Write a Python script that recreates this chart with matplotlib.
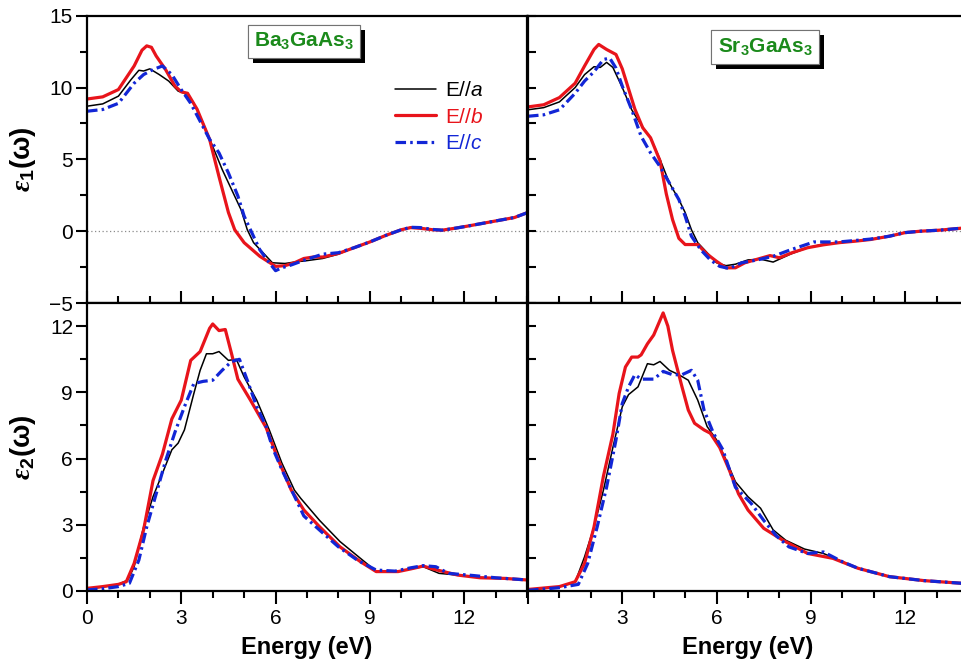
import matplotlib
matplotlib.use("Agg")
import matplotlib.pyplot as plt
import matplotlib.patheffects as pe
from matplotlib.ticker import MultipleLocator

plt.rcParams['font.family'] = ['Liberation Sans', 'DejaVu Sans']
plt.rcParams['mathtext.fontset'] = 'custom'
plt.rcParams['mathtext.rm'] = 'Liberation Sans'
plt.rcParams['mathtext.it'] = 'Liberation Sans:italic'
plt.rcParams['mathtext.bf'] = 'Liberation Sans:bold'
plt.rcParams['mathtext.bfit'] = 'Liberation Serif:italic:bold'

# ---- data (energy in eV) ----
# eps1, Ba3GaAs3
ba1_a_x = [0, 0.5, 1.0, 1.4, 1.65, 1.8, 2.0, 2.3, 2.6, 2.9, 3.1, 3.4, 3.7, 4.0, 4.3, 4.6, 4.9, 5.1, 5.3, 5.6, 5.9,
           6.3, 6.6, 7.0, 7.5, 8.0, 8.5, 9.0, 9.5, 10.0, 10.3, 10.6, 11.0, 11.3, 11.7, 12.1, 12.6, 13.1, 13.6, 14.0]
ba1_a_y = [8.7, 8.86, 9.4, 10.55, 11.2, 11.15, 11.3, 10.9, 10.45, 9.75, 9.6, 8.9, 7.5, 5.9, 4.3, 2.9, 1.5, 0.1, -0.8,
           -1.5, -2.2, -2.25, -2.15, -2.05, -1.9, -1.6, -1.15, -0.75, -0.3, 0.1, 0.27, 0.22, 0.1, 0.07, 0.2, 0.35,
           0.55, 0.75, 0.95, 1.28]
ba1_b_x = [0, 0.5, 1.0, 1.5, 1.75, 1.9, 2.05, 2.2, 2.5, 2.8, 3.0, 3.2, 3.5, 3.9, 4.2, 4.5, 4.7, 5.0, 5.5, 6.0, 6.3,
           6.6, 6.9, 7.2, 7.5, 8.0, 8.5, 9.0, 9.5, 10.0, 10.3, 10.6, 11.0, 11.3, 11.7, 12.1, 12.6, 13.1, 13.6, 14.0]
ba1_b_y = [9.2, 9.35, 9.86, 11.5, 12.6, 12.9, 12.8, 12.2, 11.25, 10.1, 9.7, 9.6, 8.5, 6.4, 3.8, 1.3, 0.1, -0.8, -1.75,
           -2.45, -2.4, -2.2, -1.9, -1.8, -1.8, -1.55, -1.15, -0.75, -0.3, 0.1, 0.25, 0.2, 0.1, 0.07, 0.2, 0.35,
           0.55, 0.75, 0.95, 1.28]
ba1_c_x = [0, 0.5, 1.0, 1.5, 1.8, 2.1, 2.4, 2.7, 3.0, 3.3, 3.6, 3.9, 4.2, 4.5, 4.8, 5.0, 5.2, 5.5, 5.8, 6.0, 6.2,
           6.5, 7.0, 7.5, 8.0, 8.5, 9.0, 9.5, 10.0, 10.3, 10.6, 11.0, 11.3, 11.7, 12.1, 12.6, 13.1, 13.6, 14.0]
ba1_c_y = [8.35, 8.47, 8.9, 10.3, 10.9, 11.25, 11.5, 10.9, 9.85, 8.9, 7.65, 6.4, 5.45, 4.05, 2.45, 1.05, 0.1, -1.3,
           -2.2, -2.75, -2.55, -2.35, -1.95, -1.6, -1.5, -1.15, -0.75, -0.3, 0.1, 0.27, 0.25, 0.12, 0.07, 0.2,
           0.35, 0.55, 0.75, 0.95, 1.28]

# eps1, Sr3GaAs3
sr1_a_x = [0, 0.5, 1.0, 1.5, 1.8, 2.1, 2.3, 2.5, 2.7, 3.0, 3.3, 3.6, 3.9, 4.2, 4.5, 4.8, 5.0, 5.2, 5.4, 5.7, 6.0,
           6.3, 6.6, 7.0, 7.4, 7.8, 8.35, 8.9, 9.4, 9.9, 10.4, 10.9, 11.5, 12.0, 12.5, 13.1, 14.0]
sr1_a_y = [8.45, 8.6, 9.0, 10.0, 10.9, 11.45, 11.4, 11.75, 11.4, 10.0, 8.45, 7.4, 6.5, 5.0, 3.35, 2.2, 1.3, 0.1,
           -0.8, -1.5, -2.2, -2.4, -2.3, -2.0, -1.95, -2.15, -1.6, -1.15, -0.9, -0.8, -0.7, -0.58, -0.35, -0.1,
           0.0, 0.07, 0.25]
sr1_b_x = [0, 0.5, 1.0, 1.5, 1.8, 2.1, 2.25, 2.5, 2.8, 3.0, 3.2, 3.4, 3.65, 3.9, 4.2, 4.4, 4.6, 4.8, 5.0, 5.4, 5.7,
           6.0, 6.3, 6.6, 6.9, 7.3, 7.7, 8.0, 8.4, 8.9, 9.4, 9.9, 10.4, 10.9, 11.5, 12.0, 12.5, 13.1, 14.0]
sr1_b_y = [8.65, 8.8, 9.3, 10.3, 11.5, 12.65, 13.0, 12.65, 12.3, 11.3, 9.9, 8.5, 7.2, 6.5, 4.9, 2.6, 0.8, -0.5,
           -0.93, -0.93, -1.6, -2.1, -2.55, -2.55, -2.2, -1.95, -1.7, -1.85, -1.5, -1.15, -0.95, -0.8, -0.7,
           -0.58, -0.35, -0.1, 0.0, 0.07, 0.25]
sr1_c_x = [0, 0.5, 1.0, 1.5, 1.8, 2.1, 2.4, 2.6, 2.8, 3.0, 3.3, 3.6, 3.9, 4.2, 4.5, 4.8, 5.0, 5.2, 5.5, 5.8, 6.1,
           6.4, 6.8, 7.3, 7.8, 8.35, 9.1, 9.9, 10.4, 10.9, 11.5, 12.0, 12.5, 13.1, 14.0]
sr1_c_y = [8.0, 8.1, 8.45, 9.6, 10.45, 11.1, 11.95, 12.05, 11.35, 10.1, 8.45, 6.6, 5.45, 4.5, 3.35, 2.2, 1.05,
           -0.35, -1.3, -2.0, -2.45, -2.6, -2.2, -2.0, -1.75, -1.3, -0.75, -0.75, -0.65, -0.55, -0.35, -0.1, 0.0,
           0.07, 0.25]

# eps2, Ba3GaAs3
ba2_a_x = [0, 0.5, 1.0, 1.3, 1.5, 1.8, 2.1, 2.4, 2.7, 2.9, 3.1, 3.4, 3.6, 3.8, 4.0, 4.2, 4.5, 4.75, 5.0, 5.4, 5.8,
           6.2, 6.6, 6.8, 7.4, 8.05, 8.7, 9.2, 9.9, 10.3, 10.7, 11.2, 11.8, 12.5, 13.3, 14.0]
ba2_a_y = [0.1, 0.18, 0.3, 0.5, 1.1, 2.9, 4.27, 5.33, 6.4, 6.7, 7.3, 8.95, 10.0, 10.75, 10.75, 10.85, 10.45, 10.5,
           9.7, 8.65, 7.3, 5.8, 4.57, 4.2, 3.2, 2.24, 1.48, 0.9, 0.88, 1.0, 1.1, 0.8, 0.72, 0.62, 0.57, 0.5]
ba2_b_x = [0, 0.5, 1.0, 1.25, 1.5, 1.8, 2.1, 2.4, 2.7, 3.0, 3.3, 3.6, 3.9, 4.0, 4.2, 4.4, 4.6, 4.8, 5.2, 5.7, 6.1,
           6.5, 6.9, 7.4, 8.05, 8.7, 9.2, 9.9, 10.3, 10.7, 11.0, 11.8, 12.5, 13.3, 14.0]
ba2_b_y = [0.12, 0.2, 0.3, 0.42, 1.25, 2.76, 5.0, 6.2, 7.8, 8.65, 10.45, 10.85, 11.9, 12.1, 11.8, 11.85, 10.75, 9.6,
           8.65, 7.4, 5.9, 4.57, 3.67, 2.91, 2.0, 1.33, 0.88, 0.88, 1.0, 1.13, 1.0, 0.72, 0.6, 0.57, 0.5]
ba2_c_x = [0, 0.5, 1.0, 1.35, 1.65, 1.9, 2.2, 2.5, 2.8, 3.1, 3.4, 3.7, 4.0, 4.3, 4.6, 4.85, 5.1, 5.4, 5.7, 5.9, 6.2,
           6.6, 6.9, 7.4, 8.0, 8.6, 9.2, 9.8, 10.3, 10.7, 11.1, 11.5, 12.3, 13.0, 14.0]
ba2_c_y = [0.05, 0.1, 0.2, 0.35, 1.4, 2.9, 4.4, 5.9, 7.2, 8.35, 9.4, 9.5, 9.55, 10.0, 10.4, 10.5, 9.55, 8.35, 7.45,
           6.5, 5.5, 4.3, 3.4, 2.76, 2.0, 1.4, 0.95, 0.9, 1.05, 1.15, 1.1, 0.8, 0.7, 0.6, 0.5]

# eps2, Sr3GaAs3
sr2_a_x = [0, 1.0, 1.5, 1.8, 2.1, 2.4, 2.7, 3.0, 3.2, 3.5, 3.8, 4.0, 4.2, 4.5, 4.8, 5.1, 5.4, 5.7, 6.0, 6.3, 6.6,
           7.0, 7.4, 7.8, 8.2, 8.8, 9.4, 9.9, 10.5, 11.5, 12.6, 14.0]
sr2_a_y = [0.05, 0.2, 0.4, 1.55, 2.9, 4.57, 6.5, 8.35, 8.9, 9.25, 10.3, 10.25, 10.4, 10.0, 9.8, 9.55, 8.65, 7.45,
           6.85, 5.95, 4.95, 4.27, 3.75, 2.77, 2.3, 1.9, 1.7, 1.4, 1.03, 0.65, 0.47, 0.33]
sr2_b_x = [0, 1.0, 1.5, 1.8, 2.1, 2.4, 2.7, 2.9, 3.1, 3.3, 3.5, 3.6, 3.8, 4.0, 4.15, 4.3, 4.45, 4.6, 4.9, 5.1,
           5.3, 5.6, 5.8, 6.1, 6.4, 6.7, 7.0, 7.5, 8.1, 8.9, 9.7, 10.5, 11.5, 12.6, 14.0]
sr2_b_y = [0.07, 0.2, 0.42, 1.25, 2.9, 5.2, 7.1, 8.95, 10.15, 10.6, 10.6, 10.7, 11.2, 11.6, 12.1, 12.6, 12.0, 10.9,
           9.25, 8.2, 7.6, 7.3, 7.15, 6.5, 5.5, 4.4, 3.67, 2.84, 2.31, 1.7, 1.48, 1.03, 0.65, 0.47, 0.33]
sr2_c_x = [0, 1.0, 1.6, 1.9, 2.2, 2.5, 2.8, 3.0, 3.2, 3.4, 3.6, 4.0, 4.3, 4.6, 4.9, 5.2, 5.4, 5.6, 5.9, 6.2, 6.6,
           7.1, 7.5, 7.9, 8.3, 8.9, 9.4, 10.0, 10.5, 11.5, 12.6, 14.0]
sr2_c_y = [0.03, 0.15, 0.3, 1.25, 2.9, 4.7, 6.85, 8.5, 9.25, 9.8, 9.6, 9.6, 9.95, 9.8, 9.8, 10.0, 9.55, 8.2, 7.15,
           6.4, 4.7, 3.97, 3.2, 2.5, 2.0, 1.7, 1.77, 1.33, 1.03, 0.65, 0.47, 0.33]

labels = [r'E//$\mathit{a}$', r'E//$\mathit{b}$', r'E//$\mathit{c}$']
compounds = [r'$\mathbf{Ba_3GaAs_3}$', r'$\mathbf{Sr_3GaAs_3}$']

styles = [dict(color='black', lw=1.1, ls='-'),
          dict(color='#e8141b', lw=2.3, ls='-'),
          dict(color='#1226d6', lw=2.3, ls=(0, (3.3, 1.3, 0.8, 1.3)))]

fig = plt.figure(figsize=(9.61, 6.72), dpi=100)
W, H = 961.0, 672.0
x_left, x_right, pw = 87, 528, 440
y_top, y_mid, y_bot = 15.7, 303, 591
ax_tl = fig.add_axes([x_left / W, 1 - y_mid / H, pw / W, (y_mid - y_top) / H])
ax_tr = fig.add_axes([x_right / W, 1 - y_mid / H, pw / W, (y_mid - y_top) / H])
ax_bl = fig.add_axes([x_left / W, 1 - y_bot / H, pw / W, (y_bot - y_mid) / H])
ax_br = fig.add_axes([x_right / W, 1 - y_bot / H, pw / W, (y_bot - y_mid) / H])

panels = [
    (ax_tl, [(ba1_a_x, ba1_a_y), (ba1_b_x, ba1_b_y), (ba1_c_x, ba1_c_y)]),
    (ax_tr, [(sr1_a_x, sr1_a_y), (sr1_b_x, sr1_b_y), (sr1_c_x, sr1_c_y)]),
    (ax_bl, [(ba2_a_x, ba2_a_y), (ba2_b_x, ba2_b_y), (ba2_c_x, ba2_c_y)]),
    (ax_br, [(sr2_a_x, sr2_a_y), (sr2_b_x, sr2_b_y), (sr2_c_x, sr2_c_y)]),
]

for ax, series in panels:
    if ax in (ax_tl, ax_tr):
        ax.axhline(0, color='0.55', lw=0.9, ls=(0, (1, 2)), zorder=1)
    for (xs, ys), st, lab in zip(series, styles, labels):
        ax.plot(xs, ys, label=lab, solid_capstyle='round', **st)
    ax.set_xlim(0, 14)
    ax.xaxis.set_major_locator(MultipleLocator(3))
    ax.xaxis.set_minor_locator(MultipleLocator(1))
    for sp in ax.spines.values():
        sp.set_linewidth(1.6)

for ax in (ax_tl, ax_tr):
    ax.set_ylim(-5, 15)
    ax.yaxis.set_major_locator(MultipleLocator(5))
    ax.yaxis.set_minor_locator(MultipleLocator(2.5))
    ax.tick_params(axis='x', which='both', direction='in', top=False, labelbottom=False, width=1.5)
    ax.tick_params(axis='x', which='major', length=9)
    ax.tick_params(axis='x', which='minor', length=5)

for ax in (ax_bl, ax_br):
    ax.set_ylim(0, 13.05)
    ax.yaxis.set_major_locator(MultipleLocator(3))
    ax.yaxis.set_minor_locator(MultipleLocator(1.5))
    ax.tick_params(axis='x', which='both', direction='out', top=False, width=1.5, labelsize=15, pad=4)
    ax.tick_params(axis='x', which='major', length=9)
    ax.tick_params(axis='x', which='minor', length=5)
    ax.set_xlabel('Energy (eV)', fontsize=17, fontweight='bold', labelpad=6)

for ax in (ax_tl, ax_bl):
    ax.tick_params(axis='y', which='both', direction='out', right=False, width=1.5, labelsize=15, pad=2)
    ax.tick_params(axis='y', which='major', length=8)
    ax.tick_params(axis='y', which='minor', length=5)

for ax in (ax_tr, ax_br):
    ax.tick_params(axis='y', which='both', direction='in', right=False, labelleft=False, width=1.5, length=6)

# hide the 0 label on the right-hand energy axis
ax_br.set_xticks([0, 3, 6, 9, 12])
ax_br.set_xticklabels(['', '3', '6', '9', '12'])

ax_tl.set_ylabel(r'$\mathbfit{ε}_{\mathbf{1}}\mathbf{(ω)}$', fontsize=20)
ax_bl.set_ylabel(r'$\mathbfit{ε}_{\mathbf{2}}\mathbf{(ω)}$', fontsize=20)
ax_tl.yaxis.set_label_coords(-0.112, 0.5)
ax_bl.yaxis.set_label_coords(-0.112, 0.5)

leg = ax_tl.legend(loc='upper left', bbox_to_anchor=(0.68, 0.80), frameon=False, fontsize=15,
                   handlelength=2.0, handletextpad=0.4, labelspacing=0.35, labelcolor='linecolor',
                   borderaxespad=0)

for ax, txt, (tx, ty) in zip((ax_tl, ax_tr), compounds, [(6.9, 13.2), (7.55, 12.8)]):
    t = ax.text(tx, ty, txt, fontsize=15, color='#1b8a1b', ha='center', va='center',
                bbox=dict(boxstyle='square,pad=0.3', fc='white', ec='0.45', lw=0.8), zorder=5)
    t.get_bbox_patch().set_path_effects([
        pe.withSimplePatchShadow(offset=(3.5, -3.5), shadow_rgbFace='black', alpha=1.0),
        pe.Normal()])

fig.savefig('out.png', dpi=100)
